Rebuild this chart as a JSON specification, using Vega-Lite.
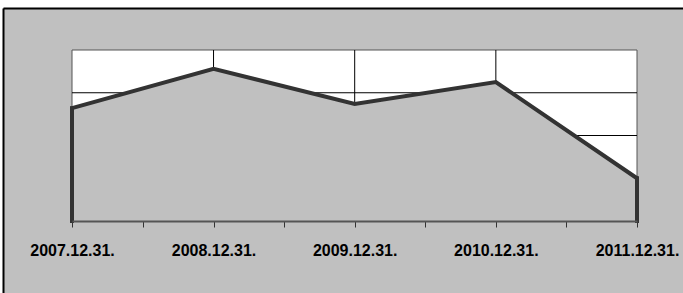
{
  "$schema": "https://vega.github.io/schema/vega-lite/v6.json",
  "width": 680,
  "height": 285,
  "autosize": {"type": "none"},
  "padding": {"left": 3, "top": 8, "right": 0, "bottom": 0},
  "background": "white",
  "config": {"view": {"fill": "#c0c0c0", "stroke": null}},
  "data": {"values": [
    {"date": "2007-12-31", "value": 2.64},
    {"date": "2008-12-31", "value": 3.56},
    {"date": "2009-12-31", "value": 2.74},
    {"date": "2010-12-31", "value": 3.25},
    {"date": "2011-12-31", "value": 1.0}
  ]},
  "resolve": {"scale": {"x": "independent", "y": "independent"}, "axis": {"x": "independent", "y": "independent"}},
  "layer": [
    {
      "layer": [
        {
          "data": {"values": [{}]},
          "mark": {"type": "rect", "fill": "white", "stroke": "#555555", "strokeWidth": 1},
          "encoding": {
            "x": {"datum": {"year": 2007, "month": 12, "date": 31, "utc": true}, "type": "temporal",
                  "scale": {"type": "utc", "domain": [{"year": 2007, "month": 12, "date": 31, "utc": true}, {"year": 2011, "month": 12, "date": 31, "utc": true}], "range": [69, 634], "nice": false}},
            "x2": {"datum": {"year": 2011, "month": 12, "date": 31, "utc": true}},
            "y": {"datum": 0, "type": "quantitative", "axis": null,
                  "scale": {"domain": [0, 4], "range": [213, 42], "nice": false, "zero": false}},
            "y2": {"datum": 4}
          }
        },
        {
          "data": {"values": [{}]},
          "mark": {"type": "rule", "color": "black", "strokeWidth": 1},
          "encoding": {
            "x": {"datum": {"year": 2007, "month": 12, "date": 31, "utc": true}, "type": "temporal"},
            "x2": {"datum": {"year": 2011, "month": 12, "date": 31, "utc": true}},
            "y": {"datum": 1, "type": "quantitative", "axis": null}
          }
        },
        {
          "data": {"values": [{}]},
          "mark": {"type": "rule", "color": "black", "strokeWidth": 1},
          "encoding": {
            "x": {"datum": {"year": 2007, "month": 12, "date": 31, "utc": true}, "type": "temporal"},
            "x2": {"datum": {"year": 2011, "month": 12, "date": 31, "utc": true}},
            "y": {"datum": 2, "type": "quantitative", "axis": null}
          }
        },
        {
          "data": {"values": [{}]},
          "mark": {"type": "rule", "color": "black", "strokeWidth": 1},
          "encoding": {
            "x": {"datum": {"year": 2007, "month": 12, "date": 31, "utc": true}, "type": "temporal"},
            "x2": {"datum": {"year": 2011, "month": 12, "date": 31, "utc": true}},
            "y": {"datum": 3, "type": "quantitative", "axis": null}
          }
        },
        {
          "data": {"values": [{}]},
          "mark": {"type": "rule", "color": "black", "strokeWidth": 1},
          "encoding": {
            "x": {"datum": {"year": 2008, "month": 12, "date": 31, "utc": true}, "type": "temporal"},
            "y": {"datum": 0, "type": "quantitative", "axis": null},
            "y2": {"datum": 4}
          }
        },
        {
          "data": {"values": [{}]},
          "mark": {"type": "rule", "color": "black", "strokeWidth": 1},
          "encoding": {
            "x": {"datum": {"year": 2009, "month": 12, "date": 31, "utc": true}, "type": "temporal"},
            "y": {"datum": 0, "type": "quantitative", "axis": null},
            "y2": {"datum": 4}
          }
        },
        {
          "data": {"values": [{}]},
          "mark": {"type": "rule", "color": "black", "strokeWidth": 1},
          "encoding": {
            "x": {"datum": {"year": 2010, "month": 12, "date": 31, "utc": true}, "type": "temporal"},
            "y": {"datum": 0, "type": "quantitative", "axis": null},
            "y2": {"datum": 4}
          }
        },
        {
          "mark": {"type": "area", "fill": "#c0c0c0", "opacity": 1},
          "encoding": {
            "x": {"field": "date", "type": "temporal",
                  "scale": {"type": "utc", "domain": [{"year": 2007, "month": 12, "date": 31, "utc": true}, {"year": 2011, "month": 12, "date": 31, "utc": true}], "range": [69, 634], "nice": false},
                  "axis": {
                    "orient": "bottom", "offset": -72, "zindex": 1, "title": null, "grid": false,
                    "values": [
                      {"year": 2007, "month": 12, "date": 31, "utc": true},
                      {"year": 2008, "month": 7, "date": 1, "utc": true},
                      {"year": 2008, "month": 12, "date": 31, "utc": true},
                      {"year": 2009, "month": 7, "date": 1, "hours": 12, "utc": true},
                      {"year": 2009, "month": 12, "date": 31, "utc": true},
                      {"year": 2010, "month": 7, "date": 1, "hours": 12, "utc": true},
                      {"year": 2010, "month": 12, "date": 31, "utc": true},
                      {"year": 2011, "month": 7, "date": 1, "hours": 12, "utc": true},
                      {"year": 2011, "month": 12, "date": 31, "utc": true}
                    ],
                    "labelExpr": "utcmonth(datum.value) == 11 ? utcFormat(datum.value, '%Y.%m.%d.') : ''",
                    "domainColor": "#555555", "domainWidth": 2,
                    "tickColor": "#333333", "tickSize": 6, "tickWidth": 1,
                    "labelFont": "Liberation Sans, Arial, sans-serif",
                    "labelFontWeight": "bold", "labelFontSize": 16, "labelColor": "black",
                    "labelBaseline": "alphabetic", "labelPadding": 28,
                    "labelOverlap": false, "labelBound": false, "labelFlush": false
                  }},
            "y": {"field": "value", "type": "quantitative", "axis": null,
                  "scale": {"domain": [0, 4], "range": [213, 42], "nice": false, "zero": false}}
          }
        },
        {
          "mark": {"type": "line", "color": "#333333", "strokeWidth": 4, "strokeJoin": "miter"},
          "encoding": {
            "x": {"field": "date", "type": "temporal"},
            "y": {"field": "value", "type": "quantitative", "axis": null}
          }
        },
        {
          "transform": [{"filter": "utcyear(datum.date) == 2007 || utcyear(datum.date) == 2011"}],
          "mark": {"type": "rule", "color": "#333333", "strokeWidth": 4, "strokeCap": "square"},
          "encoding": {
            "x": {"field": "date", "type": "temporal"},
            "y": {"field": "value", "type": "quantitative", "axis": null},
            "y2": {"datum": 0}
          }
        }
      ]
    },
    {
      "data": {"values": [{}]},
      "mark": {"type": "point", "opacity": 0},
      "encoding": {
        "x": {"datum": 0, "type": "quantitative",
              "scale": {"domain": [0, 1], "nice": false, "zero": false},
              "axis": {"orient": "top", "domain": true, "domainColor": "black", "domainWidth": 2, "ticks": false, "labels": false, "grid": false, "title": null}},
        "y": {"datum": 0, "type": "quantitative",
              "scale": {"domain": [0, 1], "nice": false, "zero": false},
              "axis": {"orient": "left", "domain": true, "domainColor": "black", "domainWidth": 2, "ticks": false, "labels": false, "grid": false, "title": null}}
      }
    }
  ]
}
